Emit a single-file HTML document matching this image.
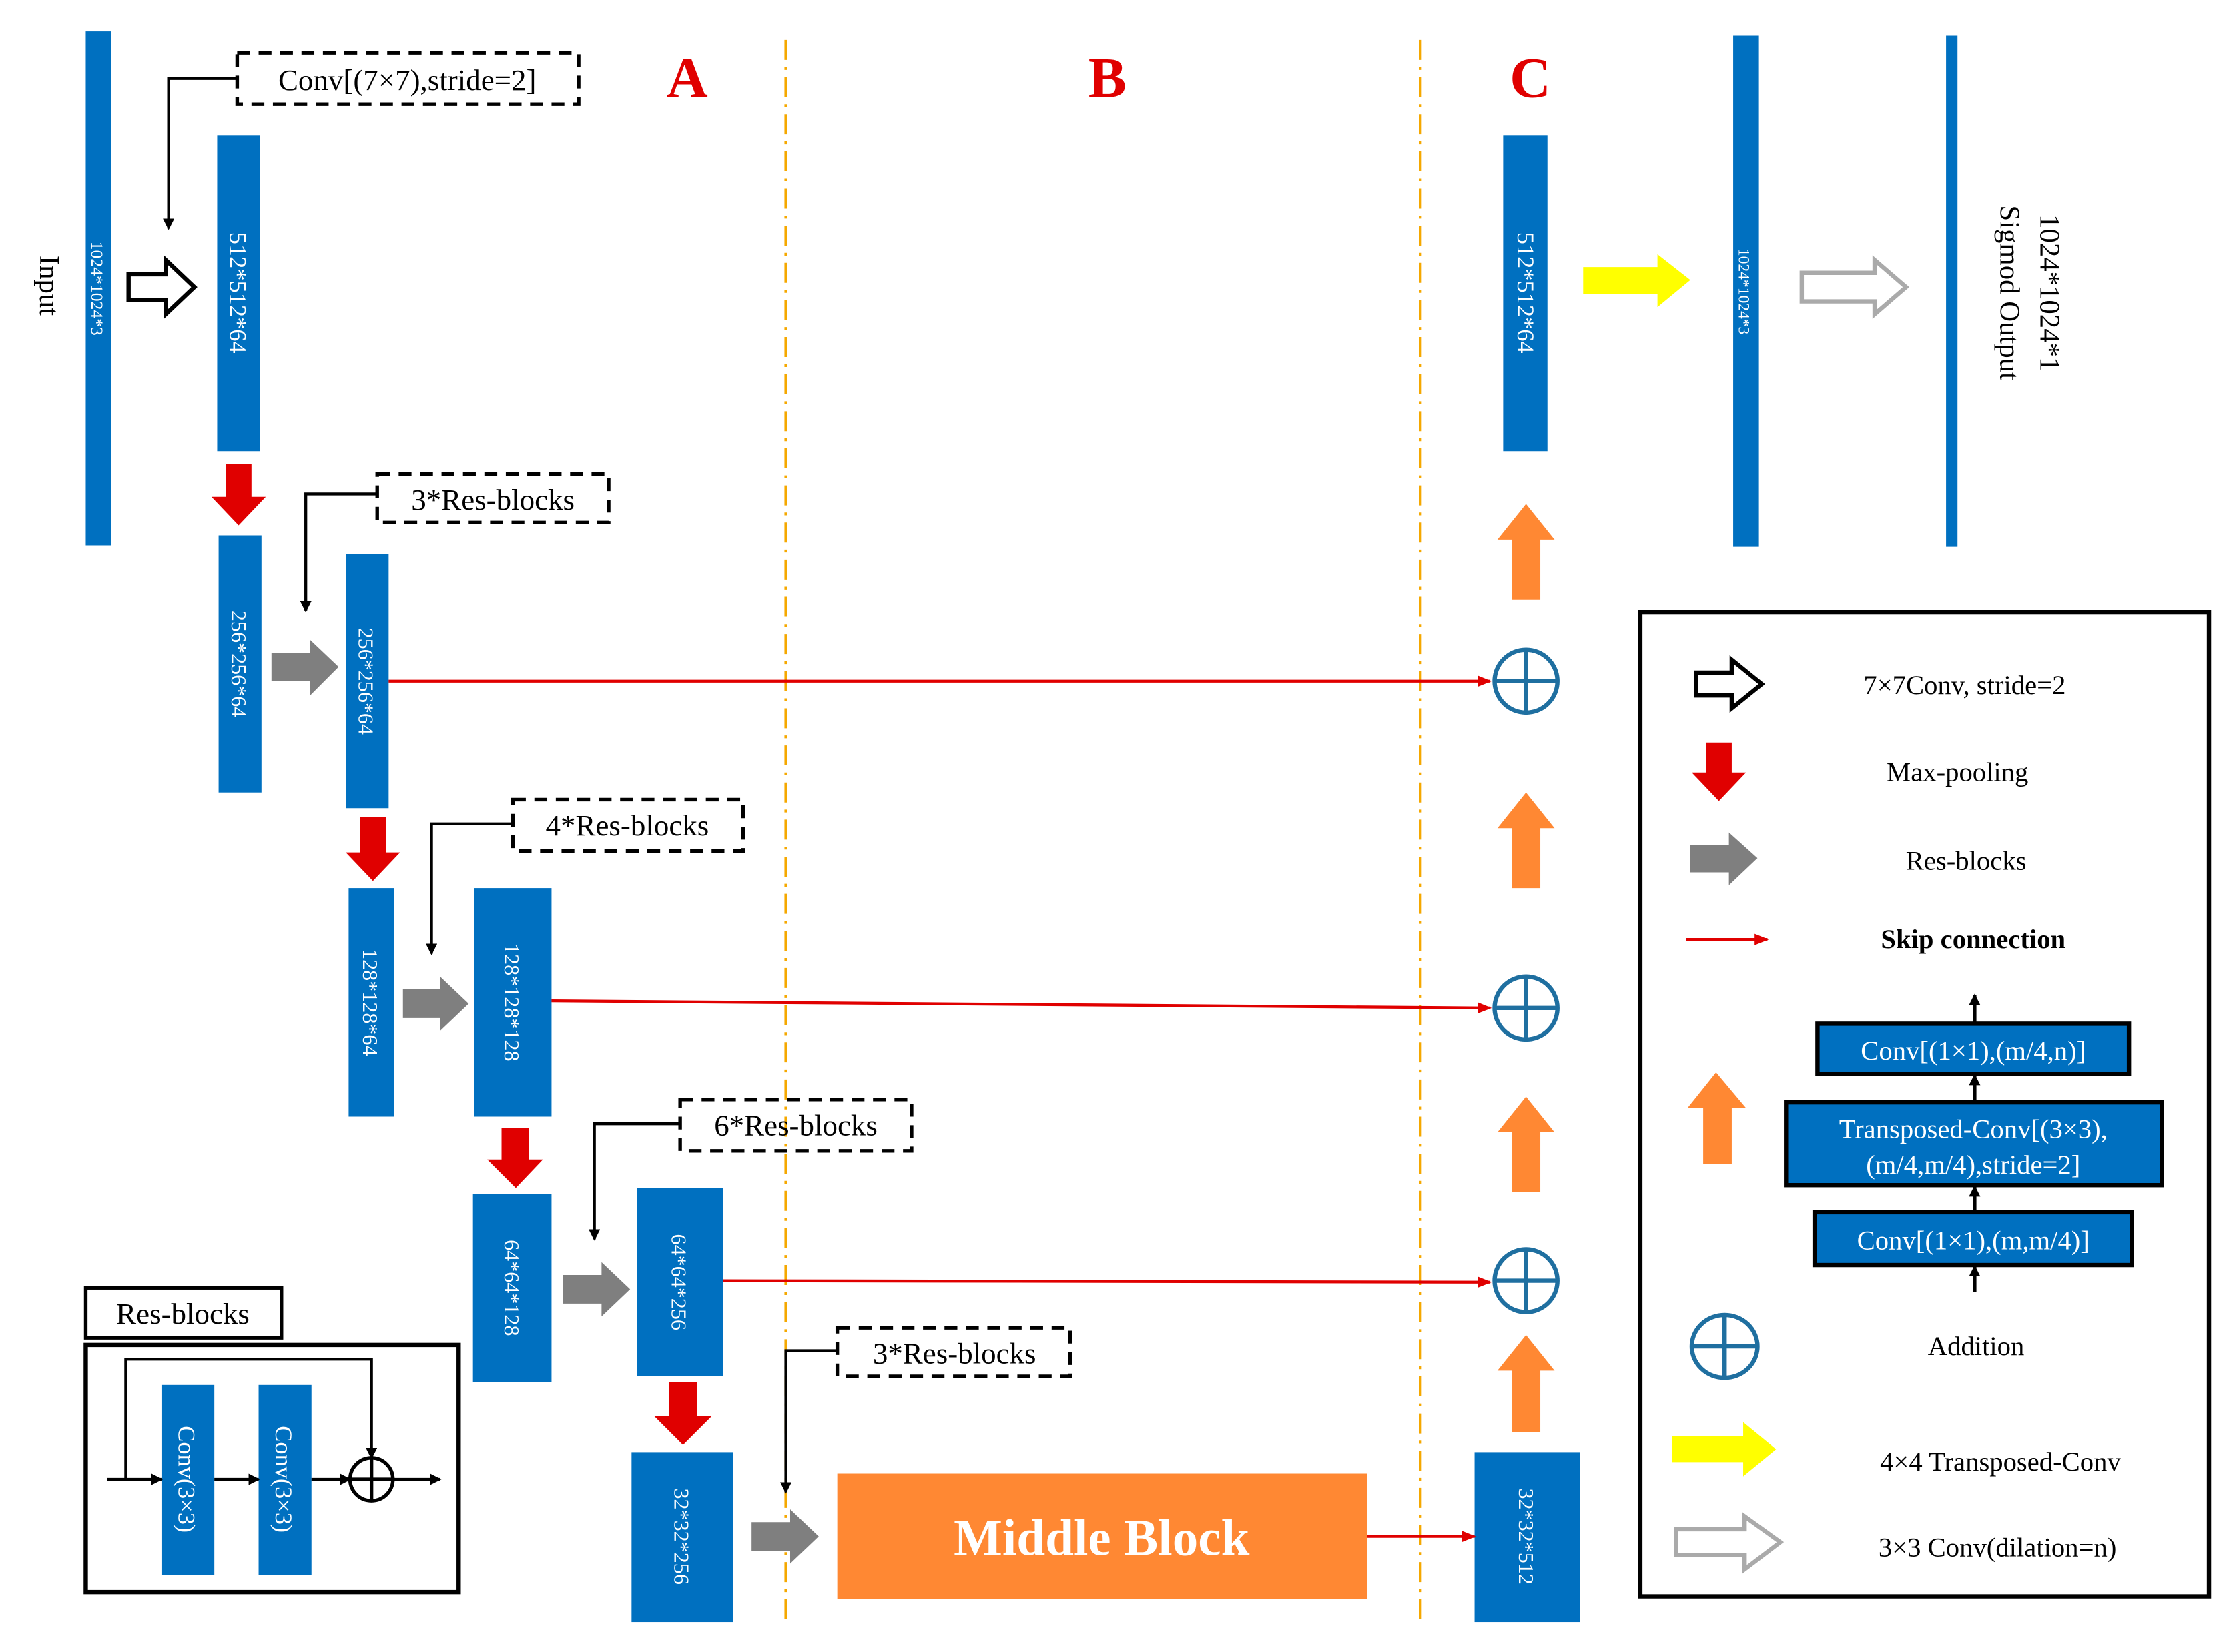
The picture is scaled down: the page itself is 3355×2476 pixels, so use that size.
<!DOCTYPE html>
<html><head><meta charset="utf-8"><style>
html,body{margin:0;padding:0;background:#fff;}
svg{display:block;}
text{font-family:"Liberation Serif",serif;}
</style></head><body>
<svg width="3355" height="2476" viewBox="0 0 1567 1157" preserveAspectRatio="none" xmlns="http://www.w3.org/2000/svg">
<defs>
<marker id="ab" markerWidth="8" markerHeight="8" refX="7" refY="4" orient="auto" markerUnits="userSpaceOnUse"><path d="M0,0 L8,4 L0,8 z" fill="#000"/></marker>
<marker id="ar" markerWidth="10" markerHeight="8" refX="9" refY="4" orient="auto" markerUnits="userSpaceOnUse"><path d="M0,0 L10,4 L0,8 z" fill="#e00000"/></marker>
</defs>
<rect width="1567" height="1157" fill="#fff"/>

<line x1="550" y1="28" x2="550" y2="1138" stroke="#f5a800" stroke-width="2" stroke-dasharray="14,5,2,5"/>
<line x1="994" y1="28" x2="994" y2="1138" stroke="#f5a800" stroke-width="2" stroke-dasharray="14,5,2,5"/>

<g font-weight="bold" font-size="40" fill="#e00000" text-anchor="middle">
<text x="481" y="68">A</text><text x="775" y="68">B</text><text x="1071" y="68">C</text>
</g>

<g fill="#0070c0">
<rect x="60" y="22" width="18" height="360"/>
<rect x="152" y="95" width="30" height="221"/>
<rect x="153" y="375" width="30" height="180"/>
<rect x="242" y="388" width="30" height="178"/>
<rect x="244" y="622" width="32" height="160"/>
<rect x="332" y="622" width="54" height="160"/>
<rect x="331" y="836" width="55" height="132"/>
<rect x="446" y="832" width="60" height="132"/>
<rect x="442" y="1017" width="71" height="119"/>
<rect x="1032" y="1017" width="74" height="119"/>
<rect x="1052" y="95" width="31" height="221"/>
<rect x="1213" y="25" width="18" height="358"/>
<rect x="1362" y="25" width="8" height="358"/>
</g>
<g fill="#fff" font-size="15" text-anchor="middle">
<text transform="translate(64,202) rotate(90)" font-size="12">1024*1024*3</text>
<text transform="translate(161,205) rotate(90)" font-size="17">512*512*64</text>
<text transform="translate(162,465) rotate(90)">256*256*64</text>
<text transform="translate(251,477) rotate(90)">256*256*64</text>
<text transform="translate(254,702) rotate(90)">128*128*64</text>
<text transform="translate(353,702) rotate(90)">128*128*128</text>
<text transform="translate(353,902) rotate(90)">64*64*128</text>
<text transform="translate(470,898) rotate(90)">64*64*256</text>
<text transform="translate(472,1076) rotate(90)">32*32*256</text>
<text transform="translate(1063,1076) rotate(90)">32*32*512</text>
<text transform="translate(1062,205) rotate(90)" font-size="17">512*512*64</text>
<text transform="translate(1217,204) rotate(90)" font-size="11">1024*1024*3</text>
</g>
<g fill="#000" font-size="20" text-anchor="middle">
<text transform="translate(28,200) rotate(90)">Input</text>
<text transform="translate(1400,205) rotate(90)">Sigmod Output</text>
<text transform="translate(1428,205) rotate(90)">1024*1024*1</text>
</g>

<g fill="none" stroke="#000" stroke-width="2.5" stroke-dasharray="9,6">
<rect x="166" y="37" width="239" height="36"/>
<rect x="264" y="332" width="162" height="34"/>
<rect x="359" y="560" width="161" height="36"/>
<rect x="476" y="770" width="162" height="36"/>
<rect x="586" y="930" width="163" height="34"/>
</g>
<g font-size="21" fill="#000" text-anchor="middle">
<text x="285" y="63">Conv[(7×7),stride=2]</text>
<text x="345" y="357">3*Res-blocks</text>
<text x="439" y="585">4*Res-blocks</text>
<text x="557" y="795">6*Res-blocks</text>
<text x="668" y="955">3*Res-blocks</text>
</g>
<g fill="none" stroke="#000" stroke-width="2">
<polyline points="166,55 118,55 118,160" marker-end="url(#ab)"/>
<polyline points="264,346 214,346 214,428" marker-end="url(#ab)"/>
<polyline points="359,577 302,577 302,668" marker-end="url(#ab)"/>
<polyline points="476,787 416,787 416,868" marker-end="url(#ab)"/>
<polyline points="586,946 550,946 550,1045" marker-end="url(#ab)"/>
</g>

<polygon points="90,192 116,192 116,182 136,201 116,220 116,210 90,210" fill="#fff" stroke="#000" stroke-width="3"/>
<polygon points="1261,191 1312,191 1312,182 1334,201 1312,220 1312,211 1261,211" fill="#fff" stroke="#aaa" stroke-width="3"/>

<g fill="#e00000">
<polygon points="158,325 176,325 176,348 186,348 167,368 148,348 158,348"/>
<polygon points="252,572 270,572 270,597 280,597 261,617 242,597 252,597"/>
<polygon points="351,790 370,790 370,812 380,812 361,832 341,812 351,812"/>
<polygon points="468,968 488,968 488,992 498,992 478,1012 458,992 468,992"/>
</g>
<g fill="#7f7f7f">
<polygon points="190,457 217,457 217,448 237,467 217,487 217,477 190,477"/>
<polygon points="282,693 308,693 308,684 328,703 308,722 308,713 282,713"/>
<polygon points="394,893 421,893 421,884 441,903 421,922 421,913 394,913"/>
<polygon points="526,1066 553,1066 553,1057 573,1076 553,1095 553,1086 526,1086"/>
</g>
<g fill="#ff8833">
<polygon points="1058,1003 1078,1003 1078,960 1088,960 1068,935 1048,960 1058,960"/>
<polygon points="1058,835 1078,835 1078,793 1088,793 1068,768 1048,793 1058,793"/>
<polygon points="1058,622 1078,622 1078,580 1088,580 1068,555 1048,580 1058,580"/>
<polygon points="1058,420 1078,420 1078,378 1088,378 1068,353 1048,378 1058,378"/>
</g>
<polygon points="1108,187 1160,187 1160,178 1183,196 1160,215 1160,206 1108,206" fill="#ffff00"/>

<g stroke="#e00000" stroke-width="2" fill="none">
<line x1="272" y1="477" x2="1043" y2="477" marker-end="url(#ar)"/>
<line x1="386" y1="701" x2="1043" y2="706" marker-end="url(#ar)"/>
<line x1="506" y1="897" x2="1043" y2="898" marker-end="url(#ar)"/>
<line x1="957" y1="1076" x2="1032" y2="1076" marker-end="url(#ar)"/>
</g>
<g fill="#fff" stroke="#1f6fa0" stroke-width="3">
<circle cx="1068" cy="477" r="22"/><path d="M1046,477 H1090 M1068,455 V499"/>
<circle cx="1068" cy="706" r="22"/><path d="M1046,706 H1090 M1068,684 V728"/>
<circle cx="1068" cy="897" r="22"/><path d="M1046,897 H1090 M1068,875 V919"/>
</g>

<rect x="586" y="1032" width="371" height="88" fill="#ff8833"/>
<text x="771" y="1089" text-anchor="middle" font-size="36" font-weight="bold" fill="#fff">Middle Block</text>

<rect x="60" y="902" width="137" height="35" fill="#fff" stroke="#000" stroke-width="2.5"/>
<text x="128" y="927" text-anchor="middle" font-size="21">Res-blocks</text>
<rect x="60" y="942" width="261" height="173" fill="#fff" stroke="#000" stroke-width="3"/>
<rect x="113" y="970" width="37" height="133" fill="#0070c0"/>
<rect x="181" y="970" width="37" height="133" fill="#0070c0"/>
<text transform="translate(125,1036) rotate(90)" text-anchor="middle" font-size="17" fill="#fff">Conv(3×3)</text>
<text transform="translate(193,1036) rotate(90)" text-anchor="middle" font-size="17" fill="#fff">Conv(3×3)</text>
<g stroke="#000" stroke-width="2" fill="none">
<line x1="75" y1="1036" x2="113" y2="1036" marker-end="url(#ab)"/>
<line x1="150" y1="1036" x2="181" y2="1036" marker-end="url(#ab)"/>
<line x1="218" y1="1036" x2="245" y2="1036" marker-end="url(#ab)"/>
<line x1="275" y1="1036" x2="308" y2="1036" marker-end="url(#ab)"/>
<polyline points="88,1036 88,952 260,952 260,1021" marker-end="url(#ab)"/>
<circle cx="260" cy="1036" r="15" stroke-width="2.5"/>
<path d="M245,1036 H275 M260,1021 V1051" stroke-width="2.5"/>
</g>

<rect x="1148" y="429" width="398" height="689" fill="none" stroke="#000" stroke-width="3"/>
<polygon points="1187,471 1212,471 1212,462 1233,479 1212,496 1212,487 1187,487" fill="#fff" stroke="#000" stroke-width="3"/>
<polygon points="1194,520 1212,520 1212,541 1222,541 1203,561 1184,541 1194,541" fill="#e00000"/>
<polygon points="1183,592 1210,592 1210,583 1230,601 1210,620 1210,611 1183,611" fill="#7f7f7f"/>
<line x1="1180" y1="658" x2="1237" y2="658" stroke="#e00000" stroke-width="2" marker-end="url(#ar)"/>
<polygon points="1192,815 1212,815 1212,776 1222,776 1201,751 1181,776 1192,776" fill="#ff8833"/>
<g fill="#fff" stroke="#1f6fa0" stroke-width="3"><ellipse cx="1207" cy="943" rx="23" ry="22"/><path d="M1184,943 H1230 M1207,921 V965"/></g>
<polygon points="1170,1006 1220,1006 1220,996 1243,1015 1220,1034 1220,1024 1170,1024" fill="#ffff00"/>
<polygon points="1173,1071 1221,1071 1221,1062 1246,1080 1221,1099 1221,1089 1173,1089" fill="#fff" stroke="#aaa" stroke-width="3"/>
<g font-size="19" fill="#000" text-anchor="middle">
<text x="1375" y="486">7×7Conv, stride=2</text>
<text x="1370" y="547">Max-pooling</text>
<text x="1376" y="609">Res-blocks</text>
<text x="1381" y="664" font-weight="bold">Skip connection</text>
<text x="1383" y="949">Addition</text>
<text x="1400" y="1030">4×4 Transposed-Conv</text>
<text x="1398" y="1090">3×3 Conv(dilation=n)</text>
</g>
<g stroke="#000" stroke-width="2.5" fill="none">
<line x1="1382" y1="716" x2="1382" y2="697" marker-end="url(#ab)"/>
<line x1="1382" y1="772" x2="1382" y2="753" marker-end="url(#ab)"/>
<line x1="1382" y1="849" x2="1382" y2="831" marker-end="url(#ab)"/>
<line x1="1382" y1="905" x2="1382" y2="887" marker-end="url(#ab)"/>
</g>
<g fill="#0070c0" stroke="#000" stroke-width="3">
<rect x="1272" y="717" width="218" height="35"/>
<rect x="1250" y="772" width="263" height="58"/>
<rect x="1270" y="849" width="222" height="37"/>
</g>
<g font-size="19" fill="#fff" text-anchor="middle">
<text x="1381" y="742">Conv[(1×1),(m/4,n)]</text>
<text x="1381" y="797">Transposed-Conv[(3×3),</text>
<text x="1381" y="822">(m/4,m/4),stride=2]</text>
<text x="1381" y="875">Conv[(1×1),(m,m/4)]</text>
</g>
</svg>
</body></html>
